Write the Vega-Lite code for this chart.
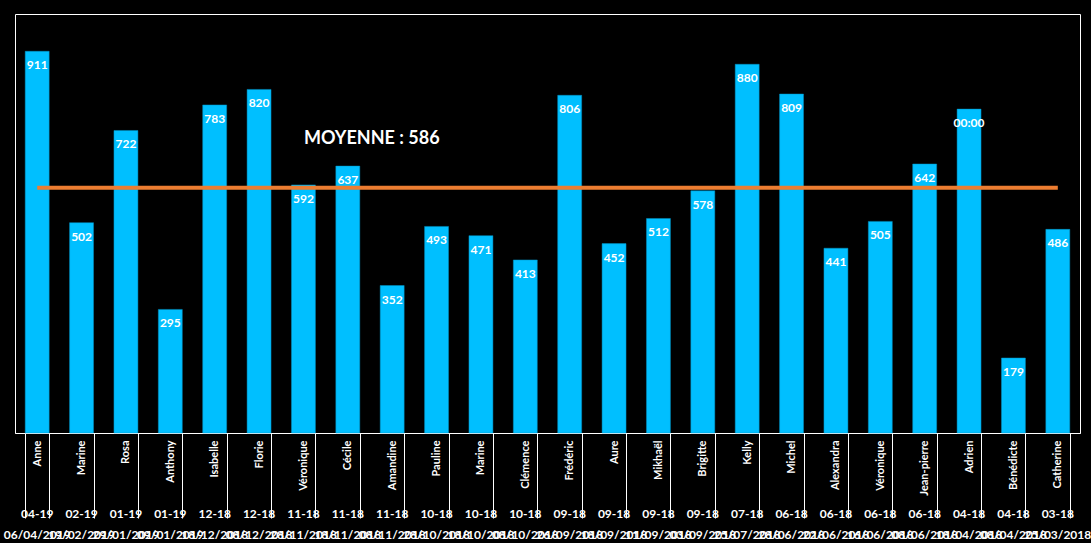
{
  "$schema": "https://vega.github.io/schema/vega-lite/v6.json",
  "width": 1065,
  "height": 419,
  "autosize": {"type": "none"},
  "padding": {"left": 15, "top": 14, "right": 11, "bottom": 110},
  "background": "#000000",
  "config": {
    "view": {"stroke": "#ffffff", "strokeWidth": 1},
    "font": "Lato",
    "axis": {"labelColor": "#ffffff", "labelFont": "Lato", "labelFontWeight": "bold", "grid": false}
  },
  "data": {
    "values": [
      {"key": "01|Anne|04-19|06/04/2019", "value": 911, "label": "911"},
      {"key": "02|Marine|02-19|19/02/2019", "value": 502, "label": "502"},
      {"key": "03|Rosa|01-19|29/01/2019", "value": 722, "label": "722"},
      {"key": "04|Anthony|01-19|09/01/2019", "value": 295, "label": "295"},
      {"key": "05|Isabelle|12-18|18/12/2018", "value": 783, "label": "783"},
      {"key": "06|Florie|12-18|08/12/2018", "value": 820, "label": "820"},
      {"key": "07|Véronique|11-18|28/11/2018", "value": 592, "label": "592"},
      {"key": "08|Cécile|11-18|18/11/2018", "value": 637, "label": "637"},
      {"key": "09|Amandine|11-18|08/11/2018", "value": 352, "label": "352"},
      {"key": "10|Pauline|10-18|28/10/2018", "value": 493, "label": "493"},
      {"key": "11|Marine|10-18|18/10/2018", "value": 471, "label": "471"},
      {"key": "12|Clémence|10-18|08/10/2018", "value": 413, "label": "413"},
      {"key": "13|Frédéric|09-18|26/09/2018", "value": 806, "label": "806"},
      {"key": "14|Aure|09-18|18/09/2018", "value": 452, "label": "452"},
      {"key": "15|Mikhaël|09-18|11/09/2018", "value": 512, "label": "512"},
      {"key": "16|Brigitte|09-18|03/09/2018", "value": 578, "label": "578"},
      {"key": "17|Kelly|07-18|25/07/2018", "value": 880, "label": "880"},
      {"key": "18|Michel|06-18|28/06/2018", "value": 809, "label": "809"},
      {"key": "19|Alexandra|06-18|22/06/2018", "value": 441, "label": "441"},
      {"key": "20|Véronique|06-18|16/06/2018", "value": 505, "label": "505"},
      {"key": "21|Jean-pierre|06-18|08/06/2018", "value": 642, "label": "642"},
      {"key": "22|Adrien|04-18|18/04/2018", "value": 773, "label": "00:00"},
      {"key": "23|Bénédicte|04-18|08/04/2018", "value": 179, "label": "179"},
      {"key": "24|Catherine|03-18|25/03/2018", "value": 486, "label": "486"}
    ]
  },
  "resolve": {"axis": {"x": "independent"}},
  "layer": [
    {
      "mark": {"type": "bar", "color": "#00BFFF", "stroke": "#0090c0", "strokeWidth": 0.5},
      "encoding": {
        "x": {
          "field": "key", "type": "nominal", "sort": null,
          "scale": {"paddingInner": 0.46, "paddingOuter": 0.23},
          "axis": {
            "orient": "bottom", "title": null,
            "labelExpr": "split(datum.value, '|')[1]",
            "labelAngle": -90, "labelFontSize": 11, "labelPadding": -78,
            "labelOverlap": false, "labelBound": false, "labelLimit": 0,
            "domainColor": "#ffffff", "tickColor": "#ffffff",
            "tickBand": "extent", "tickSize": 85, "tickWidth": 1
          }
        },
        "y": {"field": "value", "type": "quantitative", "scale": {"domain": [0, 1000]}, "axis": null}
      }
    },
    {
      "mark": {"type": "text", "color": "#ffffff", "fontWeight": "bold", "fontSize": 12, "baseline": "top", "dy": 9},
      "encoding": {
        "x": {
          "field": "key", "type": "nominal", "sort": null,
          "axis": {
            "orient": "bottom", "title": null, "offset": 75,
            "labelExpr": "split(datum.value, '|')[2]",
            "labelAngle": 0, "labelFontSize": 12, "labelPadding": 0,
            "labelOverlap": false, "labelBound": false, "labelLimit": 0,
            "domain": false, "ticks": false
          }
        },
        "y": {"field": "value", "type": "quantitative"},
        "text": {"field": "label"}
      }
    },
    {
      "transform": [{"joinaggregate": [{"op": "mean", "field": "value", "as": "moyenne"}]}],
      "mark": {"type": "line", "color": "#ED7D31", "strokeWidth": 4},
      "encoding": {
        "x": {
          "field": "key", "type": "nominal", "sort": null,
          "axis": {
            "orient": "bottom", "title": null, "offset": 96,
            "labelExpr": "split(datum.value, '|')[3]",
            "labelAngle": 0, "labelFontSize": 12, "labelPadding": 0,
            "labelOverlap": false, "labelBound": false, "labelLimit": 0,
            "domain": false, "ticks": false
          }
        },
        "y": {"field": "moyenne", "type": "quantitative"}
      }
    },
    {
      "data": {"values": [{}]},
      "mark": {"type": "text", "color": "#ffffff", "fontWeight": "bold", "fontSize": 18, "dx": 24, "baseline": "middle"},
      "encoding": {
        "x": {"datum": "08|Cécile|11-18|18/11/2018", "type": "nominal", "axis": null},
        "y": {"datum": 702, "type": "quantitative"},
        "text": {"value": "MOYENNE : 586"}
      }
    }
  ]
}
